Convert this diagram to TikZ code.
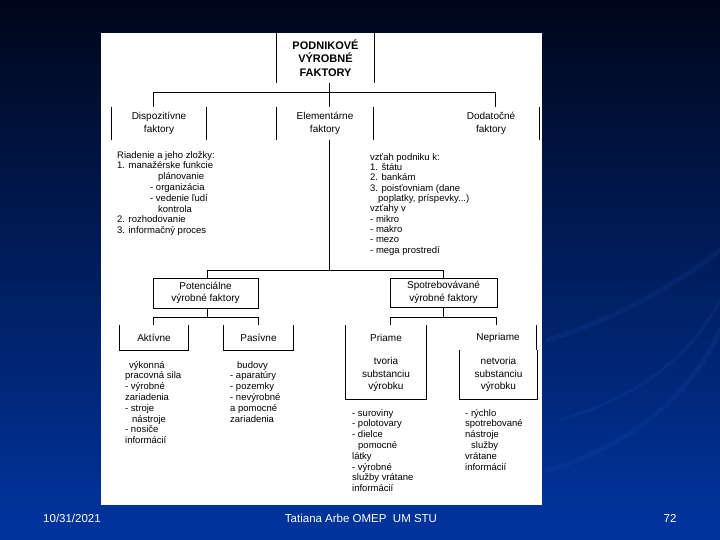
\documentclass[tikz,border=0pt]{standalone}
\usepackage{fontspec}
\setmainfont{Liberation Sans}
\definecolor{bgtop}{HTML}{00061A}
\definecolor{bgmid}{HTML}{001C68}
\definecolor{bgbot}{HTML}{0035A0}
\definecolor{swoosh}{HTML}{2A5CC0}
\begin{document}
\begin{tikzpicture}[x=1pt,y=-1pt,
  bx/.style={inner sep=0pt, align=center, font=\fontsize{10}{12.5}\selectfont},
  lst/.style={inner sep=0pt, align=left, anchor=north west, font=\fontsize{9.5}{10.8}\selectfont},
  ln/.style={black, line width=0.75pt},
  foot/.style={text=white, inner sep=0pt, font=\fontsize{11.5}{13}\selectfont},
  sw/.style={swoosh, line width=5pt, opacity=0.13, line cap=round}]
\useasboundingbox (0,0) rectangle (720,540);
\shade[top color=bgtop, middle color=bgmid, bottom color=bgbot] (0,0) rectangle (720,540);
% faint swooshes
\draw[sw] (548,470) .. controls (620,450) and (690,400) .. (720,330);
\draw[sw] (548,340) .. controls (610,320) and (670,290) .. (720,250);
\draw[sw, line width=3pt] (560,420) .. controls (630,400) and (690,360) .. (720,300);
% panel
\fill[white] (101,33) rectangle (542,505);

% top box
\node[bx, minimum width=97pt, minimum height=50pt, font=\bfseries\fontsize{11}{13.5}\selectfont] (top) at (325.5,58) {PODNIKOVÉ\\VÝROBNÉ\\FAKTORY};
\draw[ln] (top.north west) -- (top.south west) (top.north east) -- (top.south east);

% second row
\node[bx, minimum width=94pt, minimum height=33pt] (disp) at (159,123.5) {Dispozitívne\\faktory};
\node[bx, minimum width=96pt, minimum height=33pt] (elem) at (325,123.5) {Elementárne\\faktory};
\node[bx, minimum width=96pt, minimum height=33pt] (dod) at (491,123.5) {Dodatočné\\faktory};
\draw[ln] (disp.north west) -- (disp.south west) (disp.north east) -- (disp.south east);
\draw[ln] (elem.north west) -- (elem.south west) (elem.north east) -- (elem.south east);
\draw[ln] (dod.north east) -- (dod.south east);

\coordinate (j0) at (329,92);
\coordinate (jL) at (153,92);
\coordinate (jR) at (495,92);
\draw[ln] (j0 |- top.south) -- (j0);
\draw[ln] (jL) -- (jR);
\draw[ln] (jL) -- (jL |- disp.north);
\draw[ln] (j0) -- (j0 |- elem.north);
\draw[ln] (jR) -- (jR |- dod.north);

% text blocks
\node[lst] (riad) at (117,151) {Riadenie a jeho zložky:\\1. manažérske funkcie\\\hspace*{41pt}plánovanie\\\hspace*{33pt}- organizácia\\\hspace*{33pt}- vedenie ľudí\\\hspace*{41pt}kontrola\\2. rozhodovanie\\3. informačný proces};
\node[lst, font=\fontsize{9.5}{10.35}\selectfont] (vztah) at (370,153) {vzťah podniku k:\\1. štátu\\2. bankám\\3. poisťovniam (dane\\\hspace*{8pt}poplatky, príspevky...)\\vzťahy v\\- mikro\\- makro\\- mezo\\- mega prostredí};

% third row
\coordinate (k0) at (329,270);
\coordinate (k1) at (207,270);
\coordinate (k2) at (443,270);
\node[bx, draw, line width=0.75pt, minimum width=105pt, minimum height=30pt] (pot) at (205.5,293) {Potenciálne\\výrobné faktory};
\node[bx, draw, line width=0.75pt, minimum width=107pt, minimum height=29pt] (spot) at (443.5,292.5) {Spotrebovávané\\výrobné faktory};
\draw[ln] (k0 |- elem.south) -- (k0);
\draw[ln] (k1) -- (k2);
\draw[ln] (k1) -- (k1 |- pot.north);
\draw[ln] (k2) -- (k2 |- spot.north);

% fourth row
\node[bx, minimum width=68pt, minimum height=25pt] (akt) at (154,337.5) {Aktívne};
\node[bx, minimum width=69pt, minimum height=25pt] (pas) at (258.5,337.5) {Pasívne};
\node[bx, minimum width=80pt, minimum height=25pt] (pri) at (386,337.5) {Priame};
\node[bx, minimum width=77pt, minimum height=25pt] (nep) at (498,337.5) {Nepriame};
\draw[ln] (akt.north west) -- (akt.south west) -- (akt.south east) -- (akt.north east);
\draw[ln] (pas.north west) -- (pas.south west) -- (pas.south east) -- (pas.north east);
\draw[ln] (pri.north west) -- (pri.south west) (pri.north east) -- (pri.south east);
\draw[ln] (nep.north east) -- (nep.south east);

\coordinate (m1) at (207,317);
\coordinate (m1L) at (153,317);
\coordinate (m1R) at (258,317);
\draw[ln] (m1 |- pot.south) -- (m1);
\draw[ln] (m1L) -- (m1R);
\draw[ln] (m1L) -- (m1L |- akt.north);
\draw[ln] (m1R) -- (m1R |- pas.north);
\coordinate (m2) at (443,317);
\coordinate (m2L) at (390,317);
\coordinate (m2R) at (496,317);
\draw[ln] (m2 |- spot.south) -- (m2);
\draw[ln] (m2L) -- (m2R);
\draw[ln] (m2L) -- (m2L |- pri.north);
\draw[ln] (m2R) -- (m2R |- nep.north);

% substance boxes
\node[bx, minimum width=80pt, minimum height=49pt] (tvo) at (386,374.5) {tvoria\\substanciu\\výrobku};
\node[bx, minimum width=77pt, minimum height=49pt] (netv) at (498.5,374.5) {netvoria\\substanciu\\výrobku};
\draw[ln] (tvo.north west) -- (tvo.south west) -- (tvo.south east) -- (tvo.north east);
\draw[ln] (netv.north west) -- (netv.south west) -- (netv.south east) -- (netv.north east);

% lists
\node[lst] (aktl) at (125,361) {\hspace*{4pt}výkonná\\pracovná sila\\- výrobné\\zariadenia\\- stroje\\\hspace*{7pt}nástroje\\- nosiče\\informácií};
\node[lst] (pasl) at (230,361) {\hspace*{7pt}budovy\\- aparatúry\\- pozemky\\- nevýrobné\\a pomocné\\zariadenia};
\node[lst] (pril) at (352,409) {- suroviny\\- polotovary\\- dielce\\\hspace*{6pt}pomocné\\látky\\- výrobné\\služby vrátane\\informácií};
\node[lst] (nepl) at (465,409) {- rýchlo\\spotrebované\\nástroje\\\hspace*{6pt}služby\\vrátane\\informácií};

% footer
\node[foot] (date) at (72,518) {10/31/2021};
\node[foot] (auth) at (361,518) {Tatiana Arbe OMEP\ \ UM STU};
\node[foot] (pg) at (670,518) {72};
\end{tikzpicture}
\end{document}
